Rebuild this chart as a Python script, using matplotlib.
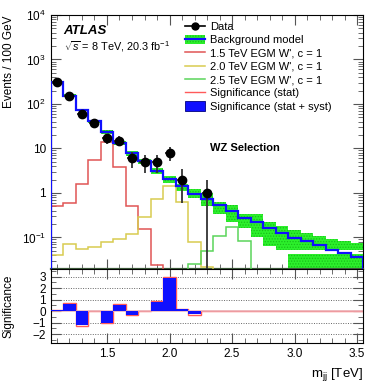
"""ATLAS WZ dijet mass spectrum with significance panel."""

import numpy as np
import matplotlib
matplotlib.use("Agg")
import matplotlib.pyplot as plt
from matplotlib.lines import Line2D
from matplotlib.patches import Patch
from matplotlib.ticker import FixedLocator, MultipleLocator, NullFormatter, LogLocator

plt.rcParams["font.family"] = ["Liberation Sans", "DejaVu Sans"]
plt.rcParams["mathtext.fontset"] = "custom"
plt.rcParams["mathtext.rm"] = "Liberation Sans"
plt.rcParams["mathtext.it"] = "Liberation Sans:italic"
plt.rcParams["mathtext.bf"] = "Liberation Sans:bold"
plt.rcParams["hatch.linewidth"] = 0.6

# bins: 100 GeV wide, 1.05 - 3.55 TeV
edges = np.round(np.arange(1.05, 3.56, 0.1), 2)
centers = np.round(edges[:-1] + 0.05, 2)

data = [310, 150, 60, 38, 17, 15, 6, 5, 5, 8, 2, 0, 1,
        0, 0, 0, 0, 0, 0, 0, 0, 0, 0, 0, 0]
bkg = [310, 155, 74, 41, 23, 13.5, 7.8, 5.1, 3.1, 2.05, 1.4, 0.95, 0.73,
       0.53, 0.39, 0.28, 0.22, 0.164, 0.126, 0.097, 0.082, 0.066, 0.053, 0.045, 0.037]
bkg_hi = [330, 165, 79, 44, 25.5, 15, 8.8, 5.9, 3.6, 2.4, 1.6, 1.25, 1.0,
          0.62, 0.53, 0.34, 0.33, 0.22, 0.178, 0.15, 0.126, 0.106, 0.093, 0.082, 0.075]
bkg_lo = [295, 140, 69, 38, 21, 12, 6.8, 4.4, 2.6, 1.7, 1.1, 0.77, 0.5,
          0.33, 0.22, 0.16, 0.103, 0.065, 0.053, 0.051, 0.051, 0.051, 0.051, 0.051, 0.051]
# second piece of the band drawn below the axis minimum for the last bins
bkg_tail_hi = [0, 0, 0, 0, 0, 0, 0, 0, 0, 0, 0, 0, 0,
               0, 0, 0, 0, 0, 0, 0.043, 0.043, 0.043, 0.043, 0.043, 0.043]

sig_15 = [0.52, 0.6, 1.6, 5.6, 13.7, 3.8, 0.5, 0.155, 0.024, 0, 0, 0, 0,
          0, 0, 0, 0, 0, 0, 0, 0, 0, 0, 0, 0]
sig_20 = [0.04, 0.07, 0.055, 0.061, 0.08, 0.093, 0.118, 0.29, 0.73, 1.45, 0.62, 0.08, 0.022,
          0, 0, 0, 0, 0, 0, 0, 0, 0, 0, 0, 0]
sig_25 = [0, 0, 0, 0, 0, 0, 0, 0, 0, 0, 0, 0.025, 0.05,
          0.11, 0.17, 0.085, 0, 0, 0, 0, 0, 0, 0, 0, 0]

signif_stat = [0.12, 0.68, -1.3, 0, -1.05, 0.6, -0.38, 0, 0.85, 3.0, 0.22, -0.3, 0,
               0, 0, 0, 0, 0, 0, 0, 0, 0, 0, 0, 0]
signif_syst = [0.08, 0.62, -1.2, 0, -1.0, 0.55, -0.33, 0, 0.78, 2.85, 0.2, -0.27, 0,
               0, 0, 0, 0, 0, 0, 0, 0, 0, 0, 0, 0]

GREEN_BAND = "#2cf02c"
BLUE = "#1010ff"
RED = "#e05555"
YELLOW = "#d8cc50"
GREEN = "#5ad45a"

fig = plt.figure(figsize=(3.73, 3.86), dpi=100)
ax = fig.add_axes([0.136, 0.3044, 0.838, 0.6567])
rax = fig.add_axes([0.136, 0.1106, 0.838, 0.1938], sharex=ax)

# background band + nominal
ax.stairs(bkg_hi, edges, baseline=bkg_lo, fill=True, facecolor=GREEN_BAND,
          edgecolor="#18c018", hatch="......", linewidth=0, zorder=2)
tail = np.array(bkg_tail_hi)
ax.stairs(np.where(tail > 0, tail, 1e-6), edges, baseline=1e-6, fill=True,
          facecolor=GREEN_BAND, edgecolor="#18c018", hatch="......",
          linewidth=0, zorder=2)
ax.stairs(bkg, edges, color=BLUE, linewidth=1.6, zorder=4)

# signals
ax.stairs(sig_15, edges, color=RED, linewidth=1.1, zorder=3)
ax.stairs(sig_20, edges, color=YELLOW, linewidth=1.1, zorder=3)
ax.stairs(sig_25, edges, color=GREEN, linewidth=1.1, zorder=3)

# data
d = np.array(data, dtype=float)
m = d > 0
yerr_lo = np.minimum(np.sqrt(d[m]), d[m] - 1e-6)
yerr_hi = np.sqrt(d[m])
ax.errorbar(centers[m], d[m], xerr=0.04, yerr=[yerr_lo, yerr_hi], fmt="o",
            color="black", ecolor="#333333", elinewidth=1.3, markersize=6,
            capsize=0, zorder=6)

ax.set_yscale("log")
ax.set_ylim(0.02, 1e4)
ax.set_xlim(1.05, 3.55)
ax.yaxis.set_major_locator(FixedLocator([0.1, 1, 10, 100, 1000, 10000]))
ax.set_yticklabels(["$10^{-1}$", "1", "10", "$10^{2}$", "$10^{3}$", "$10^{4}$"])
ax.yaxis.set_minor_locator(LogLocator(base=10, subs=np.arange(2, 10)))
ax.yaxis.set_minor_formatter(NullFormatter())
ax.set_ylabel("Events / 100 GeV", fontsize=8.5, loc="top")
ax.tick_params(axis="x", labelbottom=False)
ax.spines["bottom"].set_color("#3d5a3a")
ax.spines["bottom"].set_linewidth(1.6)

for a in (ax, rax):
    a.xaxis.set_major_locator(MultipleLocator(0.5))
    a.xaxis.set_minor_locator(MultipleLocator(0.1))
    a.tick_params(which="both", direction="in", top=True, right=True,
                  labelsize=8.5, color="#555555")
    a.tick_params(which="major", length=7)
    a.tick_params(which="minor", length=3.5)

# significance panel
rax.stairs(signif_syst, edges, baseline=0, fill=True, color=BLUE, zorder=3)
rax.stairs(signif_stat, edges, baseline=0, color="#ff5a5a", linewidth=1.0, zorder=2)
rax.axhline(0, color="#eab0b6", linewidth=1.1, zorder=2.5)
for yv in [-2, -1, 1, 2, 3]:
    rax.axhline(yv, color="#666666", linestyle=(0, (1, 1.5)), linewidth=0.7, zorder=0)
rax.set_ylim(-2.8, 3.7)
rax.yaxis.set_major_locator(FixedLocator([-2, -1, 0, 1, 2, 3]))
rax.yaxis.set_minor_locator(MultipleLocator(0.5))
rax.set_ylabel("Significance", fontsize=8.5)
rax.set_xlabel("m$_{\\mathregular{jj}}$ [TeV]", fontsize=9.5, loc="right")
ax.yaxis.set_label_coords(-0.115, 1.0)
rax.yaxis.set_label_coords(-0.115, 0.5)

# labels
ax.text(0.04, 0.935, "ATLAS", transform=ax.transAxes, fontsize=9.5,
        fontweight="bold", fontstyle="italic", va="center")
ax.text(0.043, 0.875, "$\\sqrt{s}$ = 8 TeV, 20.3 fb$^{-1}$", transform=ax.transAxes,
        fontsize=7.8, va="center")
ax.text(0.51, 0.476, "WZ Selection", transform=ax.transAxes, fontsize=8,
        fontweight="bold", va="center")

handles = [
    Line2D([], [], color="black", marker="o", markersize=5, linewidth=1.2),
    (Patch(facecolor=GREEN_BAND, edgecolor="#18c018", hatch="......", linewidth=0),
     Line2D([], [], color=BLUE, linewidth=1.6)),
    Line2D([], [], color=RED, linewidth=1.1),
    Line2D([], [], color=YELLOW, linewidth=1.1),
    Line2D([], [], color=GREEN, linewidth=1.1),
    Line2D([], [], color="#ff5a5a", linewidth=1.0),
    Patch(facecolor=BLUE, edgecolor="#000080", linewidth=0.6),
]
labels = ["Data", "Background model", "1.5 TeV EGM W', c = 1",
          "2.0 TeV EGM W', c = 1", "2.5 TeV EGM W', c = 1",
          "Significance (stat)", "Significance (stat + syst)"]
ax.legend(handles, labels, loc="upper left", bbox_to_anchor=(0.43, 0.975),
          frameon=False, fontsize=8, borderpad=0, borderaxespad=0,
          labelspacing=0.26, handlelength=1.8, handletextpad=0.45,
          handleheight=0.9)

fig.savefig("out.png", dpi=100)
